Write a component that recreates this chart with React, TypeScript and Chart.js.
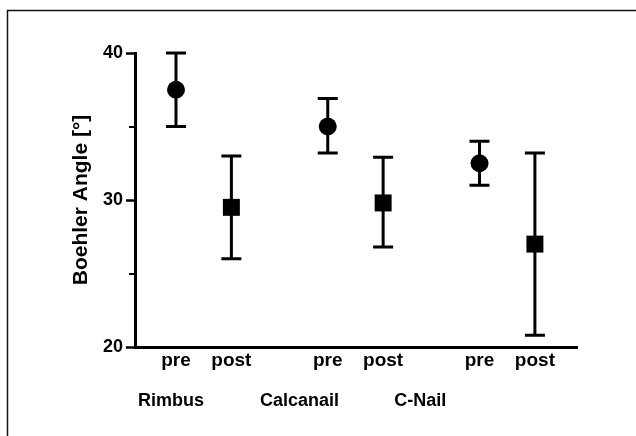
import React, { useEffect, useRef } from 'react';
import { Chart, registerables } from 'chart.js';

Chart.register(...registerables);

// ---- data ----
const GROUPS = ['Rimbus', 'Calcanail', 'C-Nail'];
const PHASES = ['pre', 'post'];
const PRE_MEAN = [37.5, 35.0, 32.5];
const PRE_UPPER = [40.0, 36.9, 34.0];
const PRE_LOWER = [35.0, 33.2, 31.0];
const POST_MEAN = [29.5, 29.8, 27.0];
const POST_UPPER = [33.0, 32.9, 33.2];
const POST_LOWER = [26.0, 26.8, 20.8];
const Y_TICKS = [20, 30, 40];
const Y_MINOR_TICKS = [25, 35];
const Y_TITLE = 'Boehler Angle [°]';

// ---- layout (axis units) ----
const GROUP_STEP = 2.74;
const X_MIN = -0.74;
const X_MAX = 7.24;
const GROUP_LABEL_X = [-0.09, 2.23, 4.41];
const xPos = (g: number, p: number) => g * GROUP_STEP + p;

const FONT = "'Liberation Sans', Arial, Helvetica, sans-serif";

const framePlugin = {
  id: 'frame',
  beforeDraw(chart: any) {
    const { ctx, width, height } = chart;
    ctx.save();
    ctx.fillStyle = '#fff';
    ctx.fillRect(0, 0, width, height);
    ctx.strokeStyle = '#111';
    ctx.lineWidth = 1.5;
    ctx.strokeRect(7.5, 10.5, width + 50, height + 50);
    ctx.restore();
  },
};

const errorBarPlugin = {
  id: 'errorBars',
  beforeDatasetsDraw(chart: any) {
    const { ctx, scales } = chart;
    const xs = scales.x;
    const ys = scales.y;
    const sets = [
      { upper: PRE_UPPER, lower: PRE_LOWER, p: 0 },
      { upper: POST_UPPER, lower: POST_LOWER, p: 1 },
    ];
    ctx.save();
    ctx.strokeStyle = '#000';
    ctx.lineWidth = 3;
    ctx.lineCap = 'butt';
    sets.forEach((s) => {
      GROUPS.forEach((_, g) => {
        const x = xs.getPixelForValue(xPos(g, s.p));
        const yt = ys.getPixelForValue(s.upper[g]);
        const yb = ys.getPixelForValue(s.lower[g]);
        ctx.beginPath();
        ctx.moveTo(x, yt);
        ctx.lineTo(x, yb);
        ctx.moveTo(x - 10, yt);
        ctx.lineTo(x + 10, yt);
        ctx.moveTo(x - 10, yb);
        ctx.lineTo(x + 10, yb);
        ctx.stroke();
      });
    });
    ctx.restore();
  },
};

const minorTickPlugin = {
  id: 'minorTicks',
  afterDraw(chart: any) {
    const { ctx, scales } = chart;
    const ys = scales.y;
    ctx.save();
    ctx.strokeStyle = '#000';
    ctx.lineWidth = 2;
    Y_MINOR_TICKS.forEach((v) => {
      const y = Math.round(ys.getPixelForValue(v));
      ctx.beginPath();
      ctx.moveTo(ys.right - 6, y);
      ctx.lineTo(ys.right, y);
      ctx.stroke();
    });
    ctx.restore();
  },
};

export default function App() {
  const ref = useRef<HTMLCanvasElement | null>(null);

  useEffect(() => {
    if (!ref.current) return;
    const phaseX: number[] = [];
    GROUPS.forEach((_, g) => PHASES.forEach((__, p) => phaseX.push(xPos(g, p))));

    const chart = new Chart(ref.current, {
      type: 'scatter',
      data: {
        datasets: [
          {
            label: 'pre',
            data: PRE_MEAN.map((m, g) => ({ x: xPos(g, 0), y: m })),
            pointStyle: 'circle',
            pointRadius: 9,
            backgroundColor: '#000',
            borderColor: '#000',
            borderWidth: 0,
          },
          {
            label: 'post',
            data: POST_MEAN.map((m, g) => ({ x: xPos(g, 1), y: m })),
            pointStyle: 'rect',
            pointRadius: 12,
            backgroundColor: '#000',
            borderColor: '#000',
            borderWidth: 0,
          },
        ],
      },
      options: {
        responsive: false,
        animation: false,
        devicePixelRatio: 1,
        layout: { padding: { left: 0, right: 59, top: 53, bottom: 0 } },
        plugins: { legend: { display: false }, tooltip: { enabled: false } },
        scales: {
          x: {
            type: 'linear',
            position: 'bottom',
            weight: 0,
            min: X_MIN,
            max: X_MAX,
            afterBuildTicks: (s: any) => {
              s.ticks = phaseX.map((v) => ({ value: v }));
            },
            afterFit: (s: any) => {
              s.height = 35;
            },
            ticks: {
              autoSkip: false,
              maxRotation: 0,
              minRotation: 0,
              padding: 2,
              color: '#000',
              font: { family: FONT, size: 19, weight: 'bold' },
              callback: (_v: any, i: number) => PHASES[i % 2],
            },
            grid: { display: false, drawTicks: false },
            border: { display: true, color: '#000', width: 3 },
          },
          x2: {
            type: 'linear',
            position: 'bottom',
            weight: 1,
            min: X_MIN,
            max: X_MAX,
            afterBuildTicks: (s: any) => {
              s.ticks = GROUP_LABEL_X.map((v) => ({ value: v }));
            },
            afterFit: (s: any) => {
              s.height = 54;
            },
            ticks: {
              autoSkip: false,
              maxRotation: 0,
              minRotation: 0,
              padding: 8,
              color: '#000',
              font: { family: FONT, size: 18, weight: 'bold' },
              callback: (_v: any, i: number) => GROUPS[i],
            },
            grid: { display: false, drawTicks: false },
            border: { display: false },
          },
          y: {
            type: 'linear',
            min: 20,
            max: 40,
            afterBuildTicks: (s: any) => {
              s.ticks = Y_TICKS.map((v) => ({ value: v }));
            },
            afterFit: (s: any) => {
              s.width = 135;
            },
            ticks: {
              padding: 3,
              color: '#000',
              font: { family: FONT, size: 18, weight: 'bold' },
              callback: (v: any) => String(v),
            },
            grid: {
              drawOnChartArea: false,
              drawTicks: true,
              tickLength: 9,
              tickWidth: 2.5,
              tickColor: '#000',
            },
            border: { display: true, color: '#000', width: 3 },
            title: {
              display: true,
              text: Y_TITLE,
              color: '#000',
              font: { family: FONT, size: 21, weight: 'bold' },
              padding: { top: 69, bottom: 0 },
            },
          },
        },
      },
      plugins: [framePlugin, errorBarPlugin, minorTickPlugin],
    } as any);

    return () => chart.destroy();
  }, []);

  return (
    <div style={{ position: 'fixed', left: 0, top: 0, width: 636, height: 436, background: '#fff' }}>
      <canvas ref={ref} width={636} height={436} style={{ width: 636, height: 436, display: 'block' }} />
    </div>
  );
}
